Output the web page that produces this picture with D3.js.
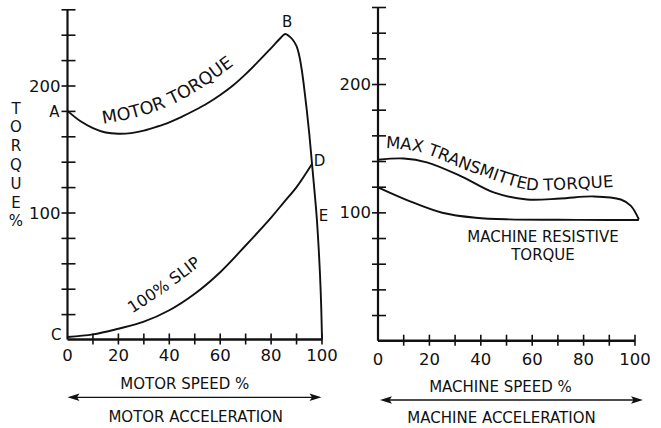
<!DOCTYPE html>
<html>
<head>
<meta charset="utf-8">
<script src="https://cdn.jsdelivr.net/npm/d3@7"></script>
<style>
  body { margin: 0; background: #fff; }
  svg { display: block; }
  text { font-family: "DejaVu Sans", sans-serif; fill: #111; }
</style>
</head>
<body>
<svg id="chart" width="661" height="428"></svg>
<script>
// Motor torque curve (A -> B -> D/E -> 100%)
const motorSpeed  = [0, 5, 10, 15, 20, 25, 30, 35, 40, 45, 50, 55, 60, 65, 70, 75, 80, 84, 85.5, 87, 88.5, 90, 91, 92, 93, 94, 95, 96, 97, 97.9, 98.6, 99.2, 99.7, 100];
const motorTorque = [180, 172, 166.5, 163, 162, 162.5, 164.5, 167.5, 171, 175.5, 180.5, 186, 192.5, 200, 209, 219, 229.5, 238, 240.5, 239, 236, 231, 224, 213, 198, 181, 162, 140, 118, 97, 75, 52, 25, 0];

// 100% slip curve (C -> D)
const slipSpeed  = [0, 10, 20, 30, 40, 50, 60, 70, 80, 85, 90, 96];
const slipTorque = [2, 4, 8.5, 14, 23, 36, 53, 74, 96, 108, 120, 138];

// Right panel: machine
const machineSpeed   = [0, 10, 19, 32, 45, 58, 71, 84, 94.5, 98.4, 101.5];
const maxTransmitted = [141, 142, 139, 128.5, 115.5, 110, 110.8, 112.4, 110, 105, 94.5];
const resistSpeed    = [0, 12, 25, 38, 51, 70, 90, 101.5];
const resistTorque   = [119.5, 109, 99.7, 95.8, 94.5, 94.2, 94, 94];

// Baselines the curve captions follow (speed %, torque %)
const motorLabelSpeed  = [14, 27, 40, 52, 66];
const motorLabelTorque = [170, 175, 184, 197, 217];
const slipLabelSpeed   = [25.5, 39, 54];
const slipLabelTorque  = [20.5, 38.5, 61];
const maxLabelSpeed    = [3, 16, 37, 59, 75, 92];
const maxLabelTorque   = [150, 147, 131, 117.5, 118, 120];

const yTicks = d3.range(20, 261, 20);
const yLabels = [100, 200];
const xTicks = d3.range(10, 101, 10);
const xLabels = [0, 20, 40, 60, 80, 100];
const yTitle = ["T", "O", "R", "Q", "U", "E", "%"];

const svg = d3.select("#chart");

// Draws one panel: axes, ticks, labels under the axis
function panel(opts) {
  let x = d3.scaleLinear().domain([0, 100]).range([opts.x0, opts.x1]);
  let y = d3.scaleLinear().domain([0, 260]).range([opts.y0, opts.y1]);
  let g = svg.append("g");

  // y axis with ticks crossing the line
  let yAxis = g.append("g")
    .attr("transform", "translate(" + x(0) + ",0)")
    .call(d3.axisLeft(y).tickValues(yTicks).tickSize(0).tickFormat(""));
  yAxis.select(".domain").remove();
  yAxis.selectAll(".tick line").remove();
  yAxis.selectAll(".tick").append("line")
    .attr("x1", -6).attr("x2", 8)
    .attr("stroke", "#111").attr("stroke-width", 1.6);
  g.append("line")
    .attr("x1", x(0)).attr("x2", x(0))
    .attr("y1", y(0)).attr("y2", y(260))
    .attr("stroke", "#111").attr("stroke-width", 2.2);
  g.selectAll(".ylab").data(yLabels).enter().append("text")
    .attr("x", x(0) - 7).attr("y", d => y(d) + 6)
    .attr("text-anchor", "end")
    .style("font-size", "16.5px")
    .text(d => d);

  // x axis
  g.selectAll(".xt").data(xTicks).enter().append("line")
    .attr("x1", d => x(d)).attr("x2", d => x(d))
    .attr("y1", y(0) - 6).attr("y2", y(0) + 5)
    .attr("stroke", "#111").attr("stroke-width", 1.6);
  g.append("line")
    .attr("x1", x(0)).attr("x2", x(100))
    .attr("y1", y(0)).attr("y2", y(0))
    .attr("stroke", "#111").attr("stroke-width", 2.4);
  g.selectAll(".xlab").data(xLabels).enter().append("text")
    .attr("x", d => x(d)).attr("y", y(0) + opts.labDy)
    .attr("text-anchor", "middle")
    .style("font-size", "16.5px")
    .text(d => d);

  // speed title, arrow, acceleration title
  let mid = (x(0) + x(100)) / 2;
  g.append("text")
    .attr("x", mid + opts.titleDx).attr("y", opts.titleY)
    .attr("text-anchor", "middle")
    .style("font-size", "15px")
    .text(opts.speedTitle);
  g.append("line")
    .attr("x1", opts.arrow[0] + 8).attr("x2", opts.arrow[1] - 8)
    .attr("y1", opts.arrowY).attr("y2", opts.arrowY)
    .attr("stroke", "#111").attr("stroke-width", 1.3);
  g.append("path")
    .attr("d", "M" + opts.arrow[0] + "," + opts.arrowY + "l12,-3.8l-2.5,3.8l2.5,3.8z")
    .attr("fill", "#111");
  g.append("path")
    .attr("d", "M" + opts.arrow[1] + "," + opts.arrowY + "l-12,-3.8l2.5,3.8l-2.5,3.8z")
    .attr("fill", "#111");
  g.append("text")
    .attr("x", mid + opts.accelDx).attr("y", opts.accelY)
    .attr("text-anchor", "middle")
    .style("font-size", "15px")
    .text(opts.accelTitle);

  return {g: g, x: x, y: y};
}

function drawCurve(p, xs, ys, id) {
  let line = d3.line()
    .x(d => p.x(d[0]))
    .y(d => p.y(d[1]))
    .curve(d3.curveCatmullRom.alpha(0.5));
  return p.g.append("path")
    .attr("id", id)
    .attr("d", line(d3.zip(xs, ys)))
    .attr("fill", "none")
    .attr("stroke", "#111")
    .attr("stroke-width", 1.9);
}

// Caption written along an invisible guide path
function curveLabel(p, xs, ys, id, size, label) {
  let line = d3.line()
    .x(d => p.x(d[0]))
    .y(d => p.y(d[1]))
    .curve(d3.curveCatmullRom.alpha(0.5));
  p.g.append("path")
    .attr("id", id)
    .attr("d", line(d3.zip(xs, ys)))
    .attr("fill", "none");
  p.g.append("text")
    .style("font-size", size + "px")
    .append("textPath")
    .attr("href", "#" + id)
    .text(label);
}

// ---- Left panel: motor
let left = panel({
  x0: 67.5, x1: 322, y0: 339.5, y1: 9.3, labDy: 21,
  speedTitle: "MOTOR SPEED %", titleY: 388.5, titleDx: -10,
  arrow: [67.5, 321.5], arrowY: 397.3,
  accelTitle: "MOTOR ACCELERATION", accelY: 421.5, accelDx: 1
});

drawCurve(left, motorSpeed, motorTorque, "motor");
drawCurve(left, slipSpeed, slipTorque, "slip");
curveLabel(left, motorLabelSpeed, motorLabelTorque, "motorLab", 17.5, "MOTOR TORQUE");
curveLabel(left, slipLabelSpeed, slipLabelTorque, "slipLab", 16, "100% SLIP");

// torque title, stacked letters
svg.selectAll(".ytitle").data(yTitle).enter().append("text")
  .attr("x", 16).attr("y", (d, i) => 113.5 + i * 18.8)
  .attr("text-anchor", "middle")
  .style("font-size", "15px")
  .text(d => d);

// point letters
let pts = [
  {t: "A", s: 0, v: motorTorque[0], dx: -8, dy: 6, a: "end"},
  {t: "B", s: 85.5, v: 240.5, dx: 2, dy: -7, a: "middle"},
  {t: "C", s: 0, v: slipTorque[0], dx: -6, dy: 3, a: "end"},
  {t: "D", s: 96, v: 138, dx: 2, dy: 2, a: "start"},
  {t: "E", s: 97.9, v: 97, dx: 2, dy: 5, a: "start"}
];
left.g.selectAll(".pt").data(pts).enter().append("text")
  .attr("x", d => left.x(d.s) + d.dx)
  .attr("y", d => left.y(d.v) + d.dy)
  .attr("text-anchor", d => d.a)
  .style("font-size", "15px")
  .text(d => d.t);

// ---- Right panel: machine
let right = panel({
  x0: 378, x1: 635, y0: 340.7, y1: 7, labDy: 24,
  speedTitle: "MACHINE SPEED %", titleY: 391.5, titleDx: -6,
  arrow: [380, 643], arrowY: 400,
  accelTitle: "MACHINE ACCELERATION", accelY: 423, accelDx: -5
});

drawCurve(right, machineSpeed, maxTransmitted, "maxT");
drawCurve(right, resistSpeed, resistTorque, "resist");
curveLabel(right, maxLabelSpeed, maxLabelTorque, "maxLab", 16.5, "MAX TRANSMITTED TORQUE");

right.g.append("text")
  .attr("x", 543).attr("y", 241.5)
  .attr("text-anchor", "middle")
  .style("font-size", "15px")
  .text("MACHINE RESISTIVE");
right.g.append("text")
  .attr("x", 543).attr("y", 260)
  .attr("text-anchor", "middle")
  .style("font-size", "15px")
  .text("TORQUE");
</script>
</body>
</html>
